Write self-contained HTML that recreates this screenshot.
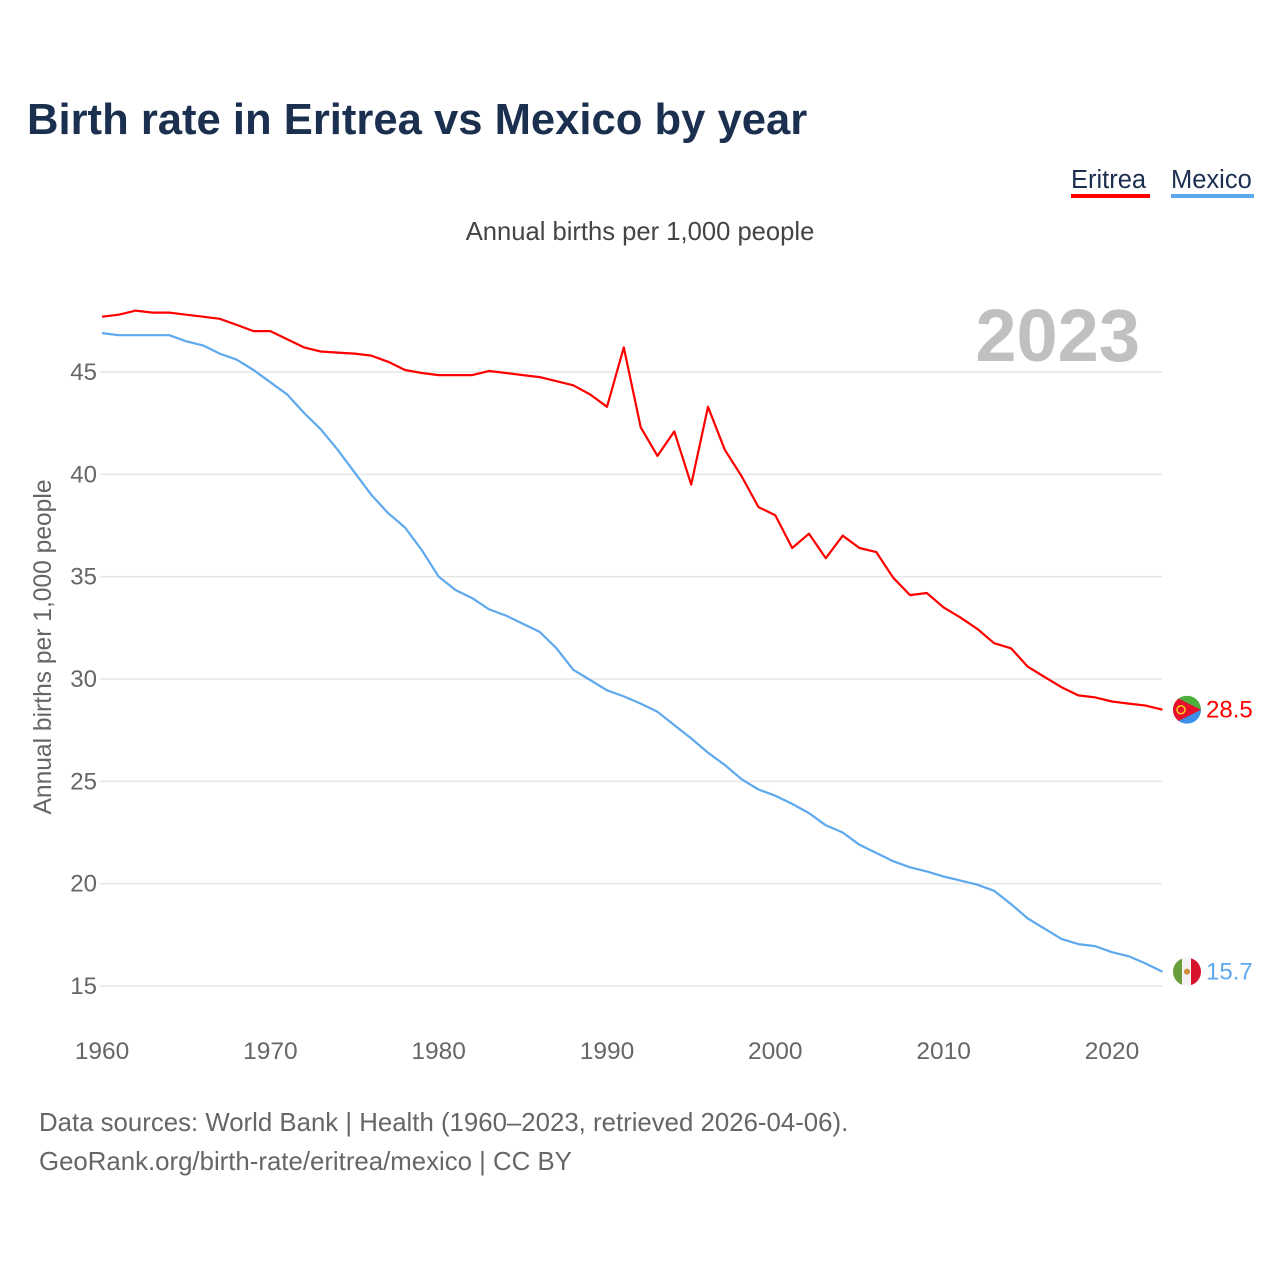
<!DOCTYPE html>
<html><head><meta charset="utf-8"><style>
body{margin:0;background:#fff;font-family:"Liberation Sans",sans-serif}
#wrap{position:relative;width:1280px;height:1280px;overflow:hidden}
</style></head><body>
<div id="wrap">
<svg id="chart" width="1280" height="1280">
<text x="27" y="134" font-size="43.6" font-weight="bold" fill="#1b2f4f">Birth rate in Eritrea vs Mexico by year</text>
<g><text x="1071" y="188" font-size="25.5" fill="#1b2f4f">Eritrea</text><rect x="1071" y="194" width="79" height="4" fill="#ff0000"/></g>
<g><text x="1171" y="188" font-size="25.5" fill="#1b2f4f">Mexico</text><rect x="1171" y="194" width="83" height="4" fill="#5ea8ee"/></g>
<text x="640" y="240" font-size="25.6" fill="#444" text-anchor="middle">Annual births per 1,000 people</text>
<text x="1140" y="361" font-size="74" font-weight="bold" fill="#c0c0c0" text-anchor="end">2023</text>
<text transform="translate(51,647) rotate(-90)" font-size="24.6" fill="#666" text-anchor="middle">Annual births per 1,000 people</text>
<g id="grid"></g><g id="yticks"></g><g id="xticks"></g><g id="lines"></g>
<text x="39" y="1131" font-size="25.8" fill="#666">Data sources: World Bank | Health (1960–2023, retrieved 2026-04-06).</text>
<text x="39" y="1170" font-size="25.8" fill="#666">GeoRank.org/birth-rate/eritrea/mexico | CC BY</text>
</svg></div>
<script>
const years=[];for(let y=1960;y<=2023;y++)years.push(y);
const eritrea=[47.7,47.8,48.0,47.9,47.9,47.8,47.7,47.6,47.3,47.0,47.0,46.6,46.2,46.0,45.95,45.9,45.8,45.5,45.1,44.95,44.85,44.85,44.85,45.05,44.95,44.85,44.75,44.55,44.35,43.9,43.3,46.2,42.3,40.9,42.1,39.5,43.3,41.2,39.9,38.4,38.0,36.4,37.1,35.9,37.0,36.4,36.2,34.95,34.1,34.2,33.5,33.0,32.45,31.75,31.5,30.6,30.1,29.6,29.2,29.1,28.9,28.8,28.7,28.5];
const mexico=[46.9,46.8,46.8,46.8,46.8,46.5,46.3,45.9,45.6,45.1,44.5,43.9,43.0,42.2,41.2,40.1,39.0,38.1,37.4,36.3,35.0,34.35,33.95,33.4,33.1,32.7,32.3,31.5,30.45,29.95,29.45,29.15,28.8,28.4,27.75,27.1,26.4,25.8,25.1,24.6,24.3,23.9,23.45,22.85,22.5,21.9,21.5,21.1,20.8,20.6,20.35,20.15,19.95,19.65,19.0,18.3,17.8,17.3,17.05,16.95,16.65,16.45,16.1,15.7];
const yTicks=[15,20,25,30,35,40,45];
const xTicks=[1960,1970,1980,1990,2000,2010,2020];
const X=y=>102+(y-1960)*16.833;
const Y=v=>372+(45-v)*20.467;
const NS="http://www.w3.org/2000/svg";
function mk(t,a,p){const e=document.createElementNS(NS,t);for(const k in a)e.setAttribute(k,a[k]);p.appendChild(e);return e;}
const grid=document.getElementById('grid'),yt=document.getElementById('yticks'),xt=document.getElementById('xticks'),ln=document.getElementById('lines');
yTicks.forEach(v=>{
 const l=mk('line',{x1:100,x2:1162,y1:Y(v),y2:Y(v),stroke:'#e6e6e6','stroke-width':1.5},grid);
 
 
 const t=mk('text',{x:97,y:Y(v)+8,'font-size':24,fill:'#666','text-anchor':'end'},yt);t.textContent=v;
 
 
});
xTicks.forEach(v=>{
 const t=mk('text',{x:X(v),y:1059,'font-size':24.5,fill:'#666','text-anchor':'middle'},xt);t.textContent=v;
 
 
});
function series(vals,color,name){
 const d=vals.map((v,i)=>(i?'L':'M')+X(years[i]).toFixed(1)+','+Y(v).toFixed(1)).join('');
 const p=mk('path',{d:d,fill:'none',stroke:color,'stroke-width':2.2,'stroke-linejoin':'round'},ln);
 
 
 const last=vals[vals.length-1],ly=Y(last);
 const g=mk('g',{},ln);
 
 
 if(name==='eritrea'){
  const cp=mk('clipPath',{id:'ce'},g);mk('circle',{cx:1187,cy:ly,r:14},cp);
  const f=mk('g',{'clip-path':'url(#ce)'},g);
  mk('rect',{x:1173,y:ly-14,width:28,height:14,fill:'#4caf3e'},f);
  mk('rect',{x:1173,y:ly,width:28,height:14,fill:'#3b8fe8'},f);
  mk('polygon',{points:`1173,${ly-14} 1201,${ly} 1173,${ly+14}`,fill:'#e8112d'},f);
  mk('circle',{cx:1181,cy:ly,r:4,fill:'none',stroke:'#f7d116','stroke-width':1.5},f);
 } else {
  const cp=mk('clipPath',{id:'cm'},g);mk('circle',{cx:1187,cy:ly,r:14},cp);
  const f=mk('g',{'clip-path':'url(#cm)'},g);
  mk('rect',{x:1173,y:ly-14,width:10,height:28,fill:'#6a9e3c'},f);
  mk('rect',{x:1182,y:ly-14,width:10,height:28,fill:'#f2f2f2'},f);
  mk('rect',{x:1191,y:ly-14,width:10,height:28,fill:'#d8132c'},f);
  mk('circle',{cx:1187,cy:ly,r:3,fill:'#d08a3c'},f);
 }
 const t=mk('text',{x:1206,y:ly+8,'font-size':24,fill:color},g);t.textContent=last.toFixed(1);
}
series(eritrea,'#ff0000','eritrea');
series(mexico,'#5ea8ee','mexico');
</script>
</body></html>
